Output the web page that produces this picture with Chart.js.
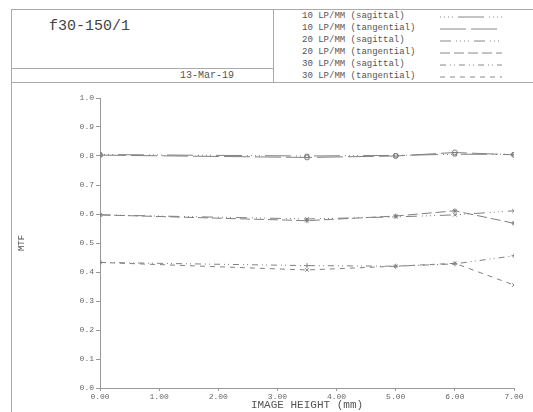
<!DOCTYPE html>
<html>
<head>
<meta charset="utf-8">
<script src="https://cdn.jsdelivr.net/npm/chart.js@4/dist/chart.umd.min.js"></script>
<style>
body{margin:0;background:#fff;font-family:"Liberation Mono",monospace;color:#555}
#page{position:relative;width:533px;height:412px;overflow:hidden}
.ln{position:absolute;background:#aaa}
.txt{position:absolute;white-space:pre;line-height:1}
#wrap{position:absolute;left:0;top:82px;width:533px;height:330px}
</style>
</head>
<body>
<div id="page">
  <div class="ln" style="left:11px;top:9px;width:522px;height:1px"></div>
  <div class="ln" style="left:11px;top:9px;width:1px;height:403px"></div>
  <div class="ln" style="left:273px;top:9px;width:1px;height:73px"></div>
  <div class="ln" style="left:11px;top:68px;width:262px;height:1px"></div>
  <div class="ln" style="left:11px;top:82px;width:522px;height:1px"></div>
  <div class="txt" style="left:49px;top:19px;font-size:15px;color:#444">f30-150/1</div>
  <div class="txt" style="left:180px;top:71px;font-size:10px">13-Mar-19</div>
  <div id="legend"></div>
  <div id="wrap"><canvas id="chart" width="533" height="330"></canvas></div>
</div>
<script>
const heights = [0, 3.5, 5, 6, 7];
const xTicks = [0, 1, 2, 3, 4, 5, 6, 7];
const yTicks = [0, 0.1, 0.2, 0.3, 0.4, 0.5, 0.6, 0.7, 0.8, 0.9, 1.0];

const seriesNames = [
  "10 LP/MM (sagittal)",
  "10 LP/MM (tangential)",
  "20 LP/MM (sagittal)",
  "20 LP/MM (tangential)",
  "30 LP/MM (sagittal)",
  "30 LP/MM (tangential)"
];
const sag10 = [0.805, 0.800, 0.802, 0.806, 0.806];
const tan10 = [0.803, 0.795, 0.800, 0.812, 0.804];
const sag20 = [0.597, 0.583, 0.590, 0.597, 0.611];
const tan20 = [0.597, 0.577, 0.593, 0.611, 0.568];
const sag30 = [0.433, 0.422, 0.420, 0.428, 0.456];
const tan30 = [0.433, 0.407, 0.420, 0.430, 0.355];

const values = [sag10, tan10, sag20, tan20, sag30, tan30];
const dashes = [
  [1,3,1,3,1,3,1,5,26,5],
  [26,5],
  [11,5,1,3,1,3,1,3,1,5],
  [10,4],
  [6,4,1,3,1,4],
  [5,5]
];
const markers = ['rect', 'circle', 'crossRot', 'star', 'cross', 'crossRot'];

// legend in the header
const legend = document.getElementById('legend');
seriesNames.forEach((name, i) => {
  const y = 12 + i * 11.9;
  const t = document.createElement('div');
  t.className = 'txt';
  t.style.cssText = `left:302px;top:${y}px;font-size:9px`;
  t.textContent = name;
  legend.appendChild(t);
  const svg = document.createElementNS('http://www.w3.org/2000/svg', 'svg');
  svg.setAttribute('width', '64');
  svg.setAttribute('height', '6');
  svg.style.cssText = `position:absolute;left:440px;top:${y + 2}px`;
  svg.innerHTML = `<line x1="0" y1="3" x2="62" y2="3" stroke="#888" stroke-width="1" stroke-dasharray="${dashes[i].join(' ')}"/>`;
  legend.appendChild(svg);
});

const chart = new Chart(document.getElementById('chart'), {
  type: 'line',
  data: {
    datasets: values.map((v, i) => ({
      label: seriesNames[i],
      data: v.map((y, j) => ({x: heights[j], y: y})),
      borderColor: '#808080',
      backgroundColor: '#808080',
      borderWidth: 1,
      borderDash: dashes[i],
      pointStyle: markers[i],
      pointRadius: 2.5,
      pointBorderWidth: 1,
      pointBackgroundColor: 'rgba(0,0,0,0)',
      tension: 0
    }))
  },
  options: {
    responsive: false,
    animation: false,
    layout: {padding: {left: 13, top: 16, right: 19, bottom: 0}},
    plugins: {legend: {display: false}, tooltip: {enabled: false}},
    scales: {
      x: {
        type: 'linear', min: 0, max: 7,
        afterBuildTicks: s => { s.ticks = xTicks.map(v => ({value: v})); },
        afterFit: s => { s.height = 24; },
        ticks: {
          callback: v => v.toFixed(2),
          font: {family: 'Liberation Mono', size: 8},
          color: '#666', padding: 1, maxRotation: 0
        },
        grid: {drawOnChartArea: false, tickLength: 3, color: '#999'},
        border: {color: '#999'},
        title: {
          display: true, text: 'IMAGE HEIGHT (mm)',
          font: {family: 'Liberation Mono', size: 11},
          color: '#555', padding: {top: 0, bottom: 0}
        }
      },
      y: {
        type: 'linear', min: 0, max: 1,
        afterBuildTicks: s => { s.ticks = yTicks.map(v => ({value: v})); },
        afterFit: s => { s.width = 87; },
        ticks: {
          callback: v => v.toFixed(1),
          font: {family: 'Liberation Mono', size: 8},
          color: '#666', padding: 2
        },
        grid: {drawOnChartArea: false, tickLength: 4, color: '#999'},
        border: {color: '#999'},
        title: {
          display: true, text: 'MTF',
          font: {family: 'Liberation Mono', size: 9},
          color: '#555', padding: {top: 3, bottom: 0}
        }
      }
    }
  }
});
</script>
</body>
</html>
